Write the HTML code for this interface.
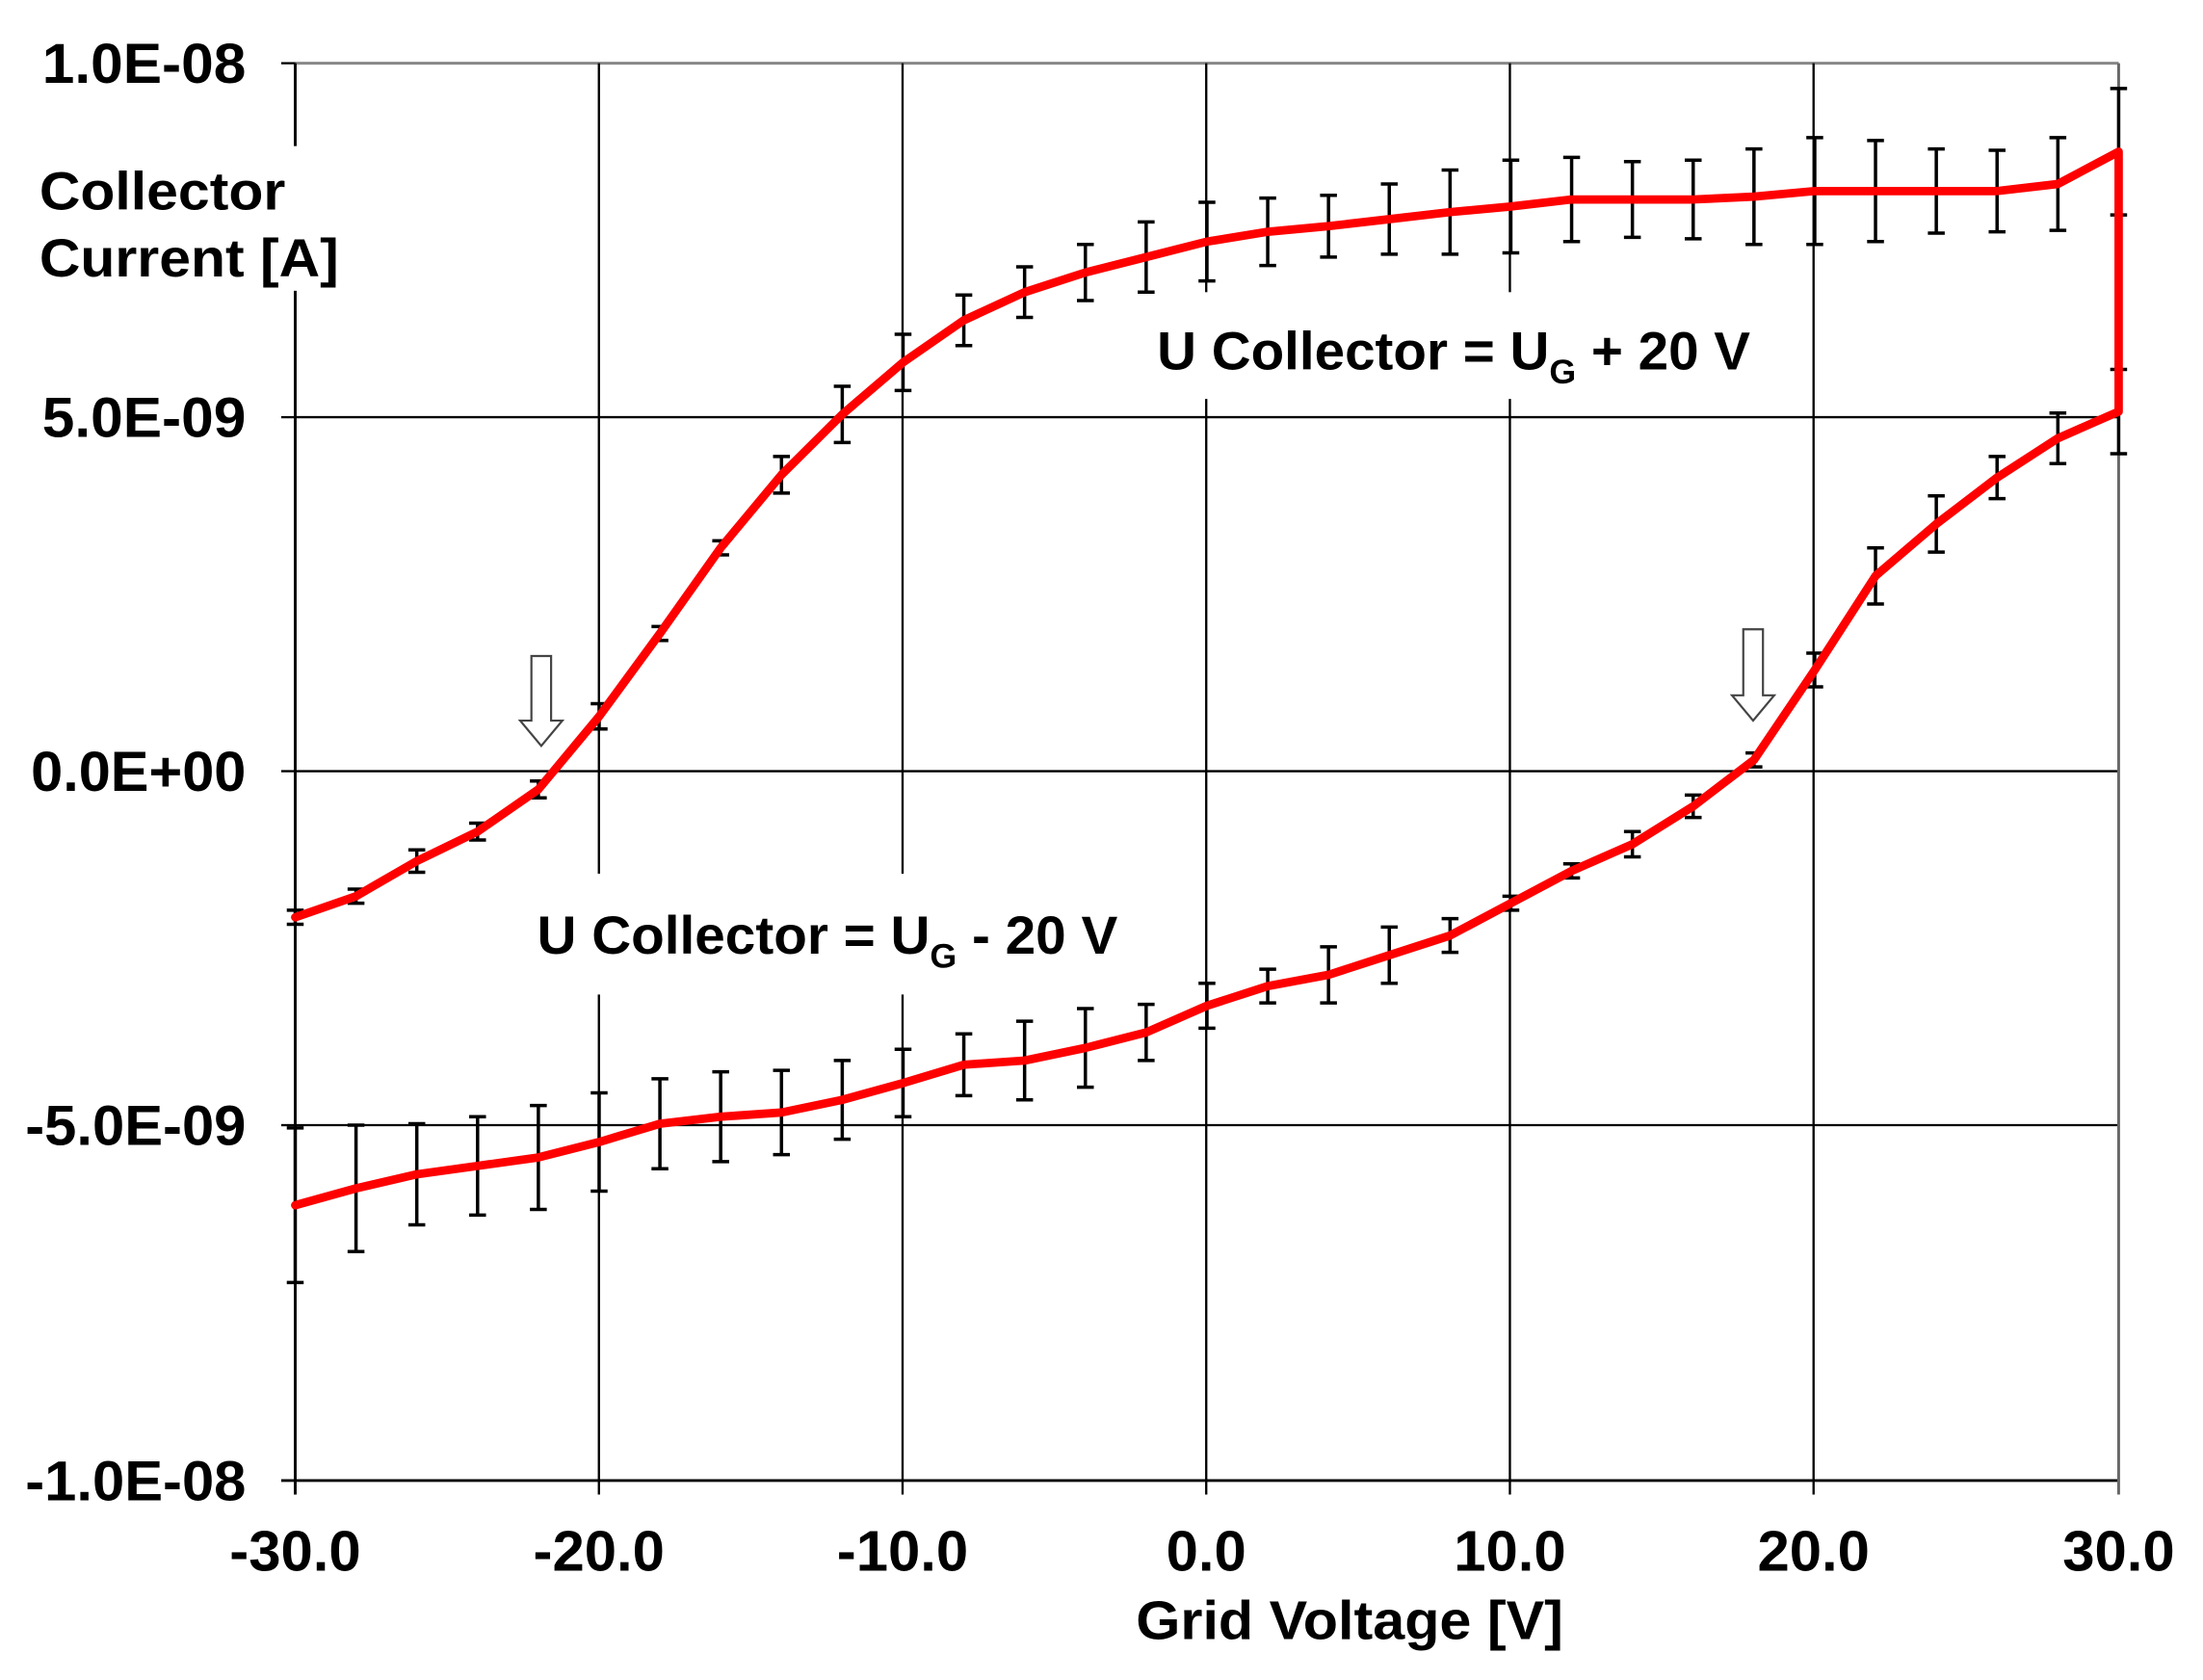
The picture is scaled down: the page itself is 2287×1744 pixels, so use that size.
<!DOCTYPE html>
<html><head><meta charset="utf-8"><style>
html,body{margin:0;padding:0;background:#fff;}
svg{display:block;}
text{font-family:"Liberation Sans",Arial,sans-serif;font-weight:bold;fill:#000;}
</style></head><body>
<svg id="s" width="2287" height="1744" viewBox="0 0 1567 1196" preserveAspectRatio="none" xmlns="http://www.w3.org/2000/svg">
<g id="grid" stroke="#000" stroke-width="1.6" fill="none">
<line x1="210" y1="45" x2="1507" y2="45" stroke="#888" stroke-width="2"/>
<line x1="210" y1="297" x2="1507" y2="297"/>
<line x1="210" y1="549" x2="1507" y2="549"/>
<line x1="210" y1="801" x2="1507" y2="801"/>
<line x1="200" y1="1054" x2="1507" y2="1054" stroke-width="2"/>
<line x1="200" y1="45" x2="210" y2="45"/><line x1="200" y1="297" x2="210" y2="297"/>
<line x1="200" y1="549" x2="210" y2="549"/><line x1="200" y1="801" x2="210" y2="801"/>
<line x1="210" y1="45" x2="210" y2="1064" stroke-width="2"/>
<line x1="426" y1="45" x2="426" y2="1064"/>
<line x1="642" y1="45" x2="642" y2="1064"/>
<line x1="858" y1="45" x2="858" y2="1064"/>
<line x1="1074" y1="45" x2="1074" y2="1064"/>
<line x1="1290" y1="45" x2="1290" y2="1064"/>
<line x1="1507" y1="45" x2="1507" y2="1064" stroke="#666" stroke-width="2"/>
</g>
<rect x="14" y="104" width="235" height="103" fill="#fff"/>
<rect x="816" y="208" width="438" height="76" fill="#fff"/>
<rect x="374" y="622" width="428" height="86" fill="#fff"/>
<g id="err" stroke="#000" stroke-width="2.4" fill="none"></g>
<g id="curves" stroke="#f00" stroke-width="6" fill="none" stroke-linejoin="round" stroke-linecap="round"></g>
<g fill="#fff" stroke="#444" stroke-width="1.5">
<path d="M378 467 H392 V513 H400 L385 531 L370 513 H378 Z"/>
<path d="M1240 448 H1254 V495 H1262 L1247 513 L1232 495 H1240 Z"/>
</g>
<g font-size="40" text-anchor="end">
<text x="175" y="59" textLength="145" lengthAdjust="spacingAndGlyphs">1.0E-08</text>
<text x="175" y="311" textLength="145" lengthAdjust="spacingAndGlyphs">5.0E-09</text>
<text x="175" y="563" textLength="153" lengthAdjust="spacingAndGlyphs">0.0E+00</text>
<text x="175" y="815" textLength="157" lengthAdjust="spacingAndGlyphs">-5.0E-09</text>
<text x="175" y="1068" textLength="157" lengthAdjust="spacingAndGlyphs">-1.0E-08</text>
</g>
<g font-size="41" text-anchor="middle">
<text x="210" y="1118">-30.0</text>
<text x="426" y="1118">-20.0</text>
<text x="642" y="1118">-10.0</text>
<text x="858" y="1118">0.0</text>
<text x="1074" y="1118">10.0</text>
<text x="1290" y="1118">20.0</text>
<text x="1507" y="1118">30.0</text>
<text x="960" y="1167" font-size="39" textLength="304" lengthAdjust="spacingAndGlyphs">Grid Voltage [V]</text>
</g>
<text x="28" y="149" font-size="38" textLength="175" lengthAdjust="spacingAndGlyphs">Collector</text>
<text x="28" y="197" font-size="38" textLength="213" lengthAdjust="spacingAndGlyphs">Current [A]</text>
<text x="823" y="263" font-size="38" textLength="422" lengthAdjust="spacingAndGlyphs">U Collector = U<tspan font-size="24" dy="10">G</tspan><tspan dy="-10"> + 20 V</tspan></text>
<text x="382" y="679" font-size="38" textLength="413" lengthAdjust="spacingAndGlyphs">U Collector = U<tspan font-size="24" dy="10">G</tspan><tspan dy="-10"> - 20 V</tspan></text>
</svg>
<script>
var up=[653,638,613,592,562,510,451,390,338,295,258,228,208,194,183,172,165,161,156,151,147,142,142,142,140,136,136,136,136,131,108];
var upE=[5,5,8,6,6,9,5,5,13,20,20,18,18,20,25,28,24,22,25,30,33,30,27,28,34,38,36,30,29,33,45];
var lo=[858,846,836,830,824,813,800,795,792,783,771,758,755,746,735,716,702,694,680,666,643,620,601,574,541,477,410,373,340,312,293];
var loE=[55,45,36,35,37,35,32,32,30,28,24,22,28,28,20,16,12,20,20,12,5,5,9,8,5,12,20,20,15,18,30];
function X(i){return 210+i*1297/30;}
var NS="http://www.w3.org/2000/svg";
var err=document.getElementById('err'),cur=document.getElementById('curves');
var d='';
for(var i=0;i<31;i++){
 [[up[i],upE[i]],[lo[i],loE[i]]].forEach(function(p){
  var x=X(i),t=p[0]-p[1],b=p[0]+p[1];
  d+='M'+x+' '+t+'V'+b+'M'+(x-6)+' '+t+'H'+(x+6)+'M'+(x-6)+' '+b+'H'+(x+6);
 });
}
var e=document.createElementNS(NS,'path');e.setAttribute('d',d);err.appendChild(e);
var c='M'+X(0)+' '+up[0];
for(var i=1;i<31;i++)c+='L'+X(i)+' '+up[i];
c+='L'+X(30)+' '+lo[30];
for(var i=29;i>=0;i--)c+='L'+X(i)+' '+lo[i];
var p=document.createElementNS(NS,'path');p.setAttribute('d',c);cur.appendChild(p);
</script>
</body></html>
